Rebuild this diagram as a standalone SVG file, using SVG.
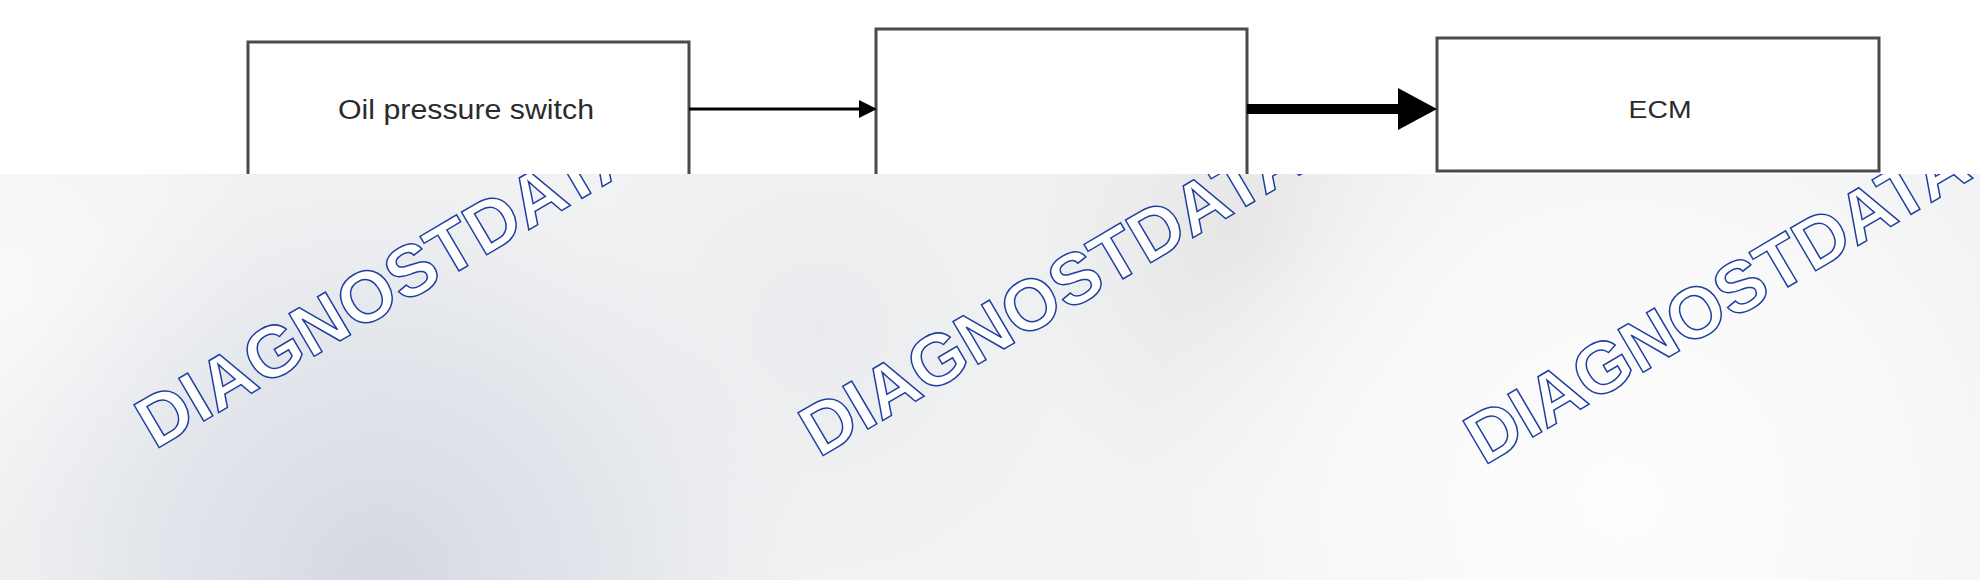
<svg xmlns="http://www.w3.org/2000/svg" width="1980" height="580" viewBox="0 0 1980 580">
  <style>
    .box { fill: #ffffff; stroke: #4a4a4a; stroke-width: 3; }
    .label { font-family: "Liberation Sans", Arial, sans-serif; fill: #2b2b2b; text-anchor: middle; }
    .wire { stroke: #000000; fill: none; }
    .head { fill: #000000; }
    .wm { font-family: "Liberation Sans", Arial, sans-serif; font-weight: bold; font-size: 72px; fill: #ffffff; stroke: #1f3fa0; stroke-width: 1.5; }
  </style>
  <defs>
    <clipPath id="panelClip">
      <rect x="0" y="174" width="1980" height="406"/>
    </clipPath>
    <radialGradient id="gDark" cx="380" cy="580" r="440" gradientUnits="userSpaceOnUse">
      <stop offset="0" stop-color="#d3d8e1" stop-opacity="1"/>
      <stop offset="0.55" stop-color="#dde1e8" stop-opacity="0.7"/>
      <stop offset="1" stop-color="#e6e8ec" stop-opacity="0"/>
    </radialGradient>
    <radialGradient id="gLight" cx="1620" cy="500" r="480" gradientUnits="userSpaceOnUse">
      <stop offset="0" stop-color="#fdfdfd" stop-opacity="1"/>
      <stop offset="0.6" stop-color="#fafafa" stop-opacity="0.8"/>
      <stop offset="1" stop-color="#fafafa" stop-opacity="0"/>
    </radialGradient>
    <radialGradient id="gGrey1" cx="1250" cy="240" r="260" gradientUnits="userSpaceOnUse">
      <stop offset="0" stop-color="#e5e5e6" stop-opacity="1"/>
      <stop offset="1" stop-color="#e8e8e9" stop-opacity="0"/>
    </radialGradient>
    <radialGradient id="gGrey2" cx="820" cy="330" r="260" gradientUnits="userSpaceOnUse">
      <stop offset="0" stop-color="#e9ebee" stop-opacity="1"/>
      <stop offset="1" stop-color="#eceef0" stop-opacity="0"/>
    </radialGradient>
    <radialGradient id="gLeft" cx="0" cy="280" r="260" gradientUnits="userSpaceOnUse">
      <stop offset="0" stop-color="#f8f9fa" stop-opacity="1"/>
      <stop offset="1" stop-color="#f8f9fa" stop-opacity="0"/>
    </radialGradient>
  </defs>

  <rect x="0" y="0" width="1980" height="580" fill="#ffffff"/>

  <g id="node-oil-pressure-switch">
    <rect class="box" x="248" y="42" width="441" height="200"/>
    <text class="label" x="466" y="119" font-size="27" textLength="256" lengthAdjust="spacingAndGlyphs">Oil pressure switch</text>
  </g>

  <g id="node-middle">
    <rect class="box" x="876" y="29" width="371" height="210"/>
  </g>

  <g id="node-ecm">
    <rect class="box" x="1437" y="38" width="442" height="133"/>
    <text class="label" x="1660" y="118" font-size="24" textLength="63" lengthAdjust="spacingAndGlyphs">ECM</text>
  </g>

  <g id="connectors">
    <line class="wire" x1="689" y1="109" x2="862" y2="109" stroke-width="3"/>
    <polygon class="head" points="859,100 877,109 859,118"/>
    <line class="wire" x1="1247" y1="109" x2="1400" y2="109" stroke-width="10"/>
    <polygon class="head" points="1398,88 1437,109 1398,130"/>
  </g>

  <g id="watermark-panel">
    <rect x="0" y="174" width="1980" height="406" fill="#f1f2f3"/>
    <rect x="0" y="174" width="1980" height="406" fill="url(#gGrey2)"/>
    <rect x="0" y="174" width="1980" height="406" fill="url(#gGrey1)"/>
    <rect x="0" y="174" width="1980" height="406" fill="url(#gLeft)"/>
    <rect x="0" y="174" width="1980" height="406" fill="url(#gLight)"/>
    <rect x="0" y="174" width="1980" height="406" fill="url(#gDark)"/>
    <g clip-path="url(#panelClip)">
      <text class="wm" transform="translate(155,450) rotate(-30.5)">DIAGNOSTDATA</text>
      <text class="wm" transform="translate(819,458) rotate(-30.5)">DIAGNOSTDATA</text>
      <text class="wm" transform="translate(1484,466) rotate(-30.5)">DIAGNOSTDATA</text>
    </g>
  </g>
</svg>
